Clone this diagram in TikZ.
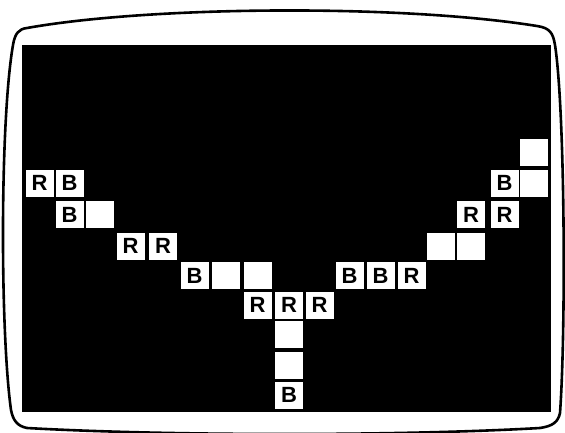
\documentclass[tikz,border=0pt]{standalone}
\usepackage{fontspec}
\setmainfont{Liberation Sans}
\begin{document}
\begin{tikzpicture}[x=1pt,y=-1pt,
  cell/.style={fill=white,draw=none,minimum width=28pt,minimum height=27pt,inner sep=0pt,
    font=\fontsize{22}{22}\selectfont\bfseries,text=black},
  bezel/.style={draw=black,line width=2.6pt,line join=round}]
\useasboundingbox (0,0) rectangle (565,432);
\begin{scope}
\clip (0,0) rectangle (565,432);
\draw[bezel] (27,28) .. controls (150,6) and (400,4) .. (537,26)
  .. controls (550,28) and (553,33) .. (555,45)
  .. controls (565,110) and (566,330) .. (560,413)
  .. controls (558,422) and (553,426) .. (540,428)
  .. controls (400,436) and (170,436) .. (27,428)
  .. controls (17,426) and (13,420) .. (11,410)
  .. controls (0,330) and (0,120) .. (13,45)
  .. controls (15,33) and (19,29) .. (27,28) -- cycle;
\end{scope}
\fill[black] (22,45) rectangle (551,412);
% row B
\node[cell] (rb0) at (39.5,183) {R};
\node[cell] (rb1) at (69.5,183) {B};
% row C
\node[cell] (rc1) at (69.5,214.5) {B};
\node[cell] (rc2) at (99.5,214.5) {};
% row D
\node[cell] (rd3) at (130.5,246) {R};
\node[cell] (rd4) at (163,246) {R};
% row E
\node[cell] (re5) at (194.5,275.5) {B};
\node[cell] (re6) at (225.5,275.5) {};
\node[cell] (re7) at (257.5,275.5) {};
\node[cell] (re10) at (349.5,275.5) {B};
\node[cell] (re11) at (380.5,275.5) {B};
\node[cell] (re12) at (411.5,275.5) {R};
% row F
\node[cell] (rf7) at (257.5,305) {R};
\node[cell] (rf8) at (289,305) {R};
\node[cell] (rf9) at (319.5,305) {R};
% stem
\node[cell] (rg8) at (289,334.5) {};
\node[cell] (rh8) at (289,365.5) {};
\node[cell] (ri8) at (289,395) {B};
% right arm
\node[cell] (rd13) at (440.5,246) {};
\node[cell] (rd14) at (471,246) {};
\node[cell] (rc14) at (471,214.5) {R};
\node[cell] (rc15) at (504.5,214.5) {R};
\node[cell] (rb15) at (504.5,183) {B};
\node[cell] (rb16) at (533.5,183) {};
\node[cell] (ra16) at (533.5,152.5) {};
\end{tikzpicture}
\end{document}
